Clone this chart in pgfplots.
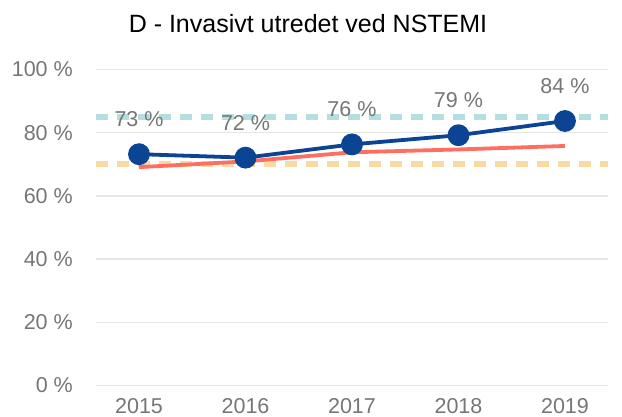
\documentclass[border=0pt]{standalone}
\usepackage{pgfplots}
\pgfplotsset{compat=1.18}
\usepackage{fontspec}
\setmainfont{Liberation Sans}
\definecolor{bl}{HTML}{0B4493}
\definecolor{sal}{HTML}{FF6F61}
\definecolor{tealdash}{HTML}{B5DEE0}
\definecolor{orgdash}{HTML}{F9DAA3}
\definecolor{txtgray}{HTML}{767676}
\definecolor{gridgray}{HTML}{E6E6E6}
\begin{document}
\begin{tikzpicture}
\path[use as bounding box] (-96pt,-31.5pt) rectangle (526pt,385.5pt);
\begin{axis}[
  at={(0,0)}, anchor=south west,
  scale only axis, width=512pt, height=316pt,
  xmin=2014.596, xmax=2019.404,
  ymin=0, ymax=100,
  xtick={2015,2016,2017,2018,2019},
  xticklabels={2015,2016,2017,2018,2019},
  ytick={0,20,40,60,80,100},
  yticklabels={0 \%,20 \%,40 \%,60 \%,80 \%,100 \%},
  /pgf/number format/assume math mode=true,
  axis line style={draw=none},
  tick style={draw=none},
  ymajorgrids, major grid style={gridgray, line width=1.5pt},
  ticklabel style={font=\fontsize{21.5}{24}\selectfont, text=txtgray},
  yticklabel style={anchor=east, inner sep=0pt, xshift=-23pt},
  xticklabel style={anchor=north, inner sep=0pt, yshift=-12.5pt},
  clip=false,
]
\addplot[tealdash, line width=6pt, dash pattern=on 12pt off 9pt] coordinates {(2014.596,85) (2019.404,85)};
\addplot[orgdash, line width=6pt, dash pattern=on 12pt off 9pt] coordinates {(2014.596,70) (2019.404,70)};
\addplot[sal, line width=3.8pt, no marks] coordinates {
(2015,69.1) (2016,70.9) (2017,73.8) (2018,74.7) (2019,75.8)};
\addplot[bl, line width=3.8pt, mark=*, mark size=9pt, mark options={fill=bl, draw=bl},
  point meta=explicit symbolic,
  nodes near coords,
  every node near coord/.append style={anchor=base, inner sep=0pt, yshift=27.5pt,
    font=\fontsize{21.5}{24}\selectfont, text=txtgray}]
 coordinates {
(2015,73.2) [73 \%]
(2016,72.1) [72 \%]
(2017,76.3) [76 \%]
(2018,79.2) [79 \%]
(2019,83.7) [84 \%]};
\end{axis}
\node[anchor=base, inner sep=0pt, font=\fontsize{25}{28}\selectfont] at (212pt,352.5pt) {D - Invasivt utredet ved NSTEMI};
\end{tikzpicture}
\end{document}
